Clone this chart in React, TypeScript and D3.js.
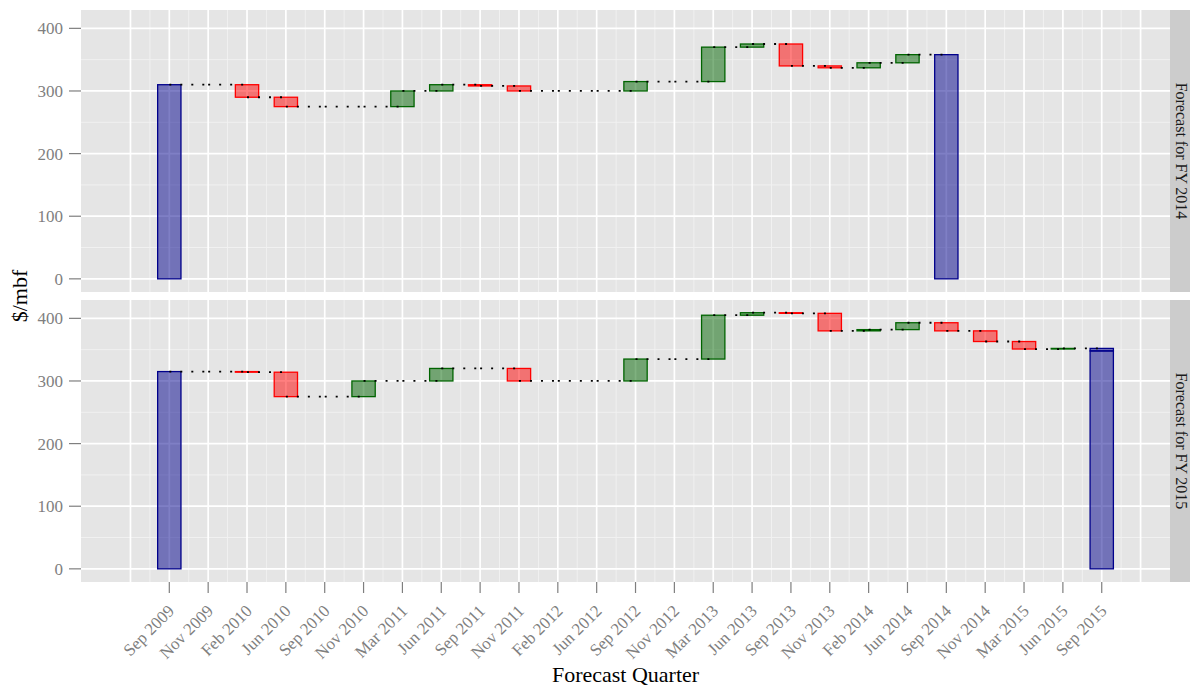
import React from "react";
import * as d3 from "d3";

// quarter labels along the x axis
const quarters = [
  "Sep 2009", "Nov 2009", "Feb 2010", "Jun 2010", "Sep 2010", "Nov 2010",
  "Mar 2011", "Jun 2011", "Sep 2011", "Nov 2011", "Feb 2012", "Jun 2012",
  "Sep 2012", "Nov 2012", "Mar 2013", "Jun 2013", "Sep 2013", "Nov 2013",
  "Feb 2014", "Jun 2014", "Sep 2014", "Nov 2014", "Mar 2015", "Jun 2015",
  "Sep 2015",
];

const panelLabels = ["Forecast for FY 2014", "Forecast for FY 2015"];

// FY 2014: opening forecast, quarter-on-quarter changes, closing forecast
const fy2014Start = 310;
const fy2014Changes = [0, -20, -15, 0, 0, 25, 10, -2, -8, 0, 0, 15, 0, 55, 5, -35, -3, 8, 13];
const fy2014Total = [358];

// FY 2015
const fy2015Start = 315;
const fy2015Changes = [0, -1, -39, 0, 25, 0, 20, 0, -20, 0, 0, 35, 0, 70, 4, -1, -28, 2, 11, -13, -17, -12, 1];
const fy2015Total = [348, 352];

const yTicks = [0, 100, 200, 300, 400];
const yMinor = [50, 150, 250, 350];

const W = 1190;
const H = 688;
const left = 81;
const right = 1170;
const panels = [
  { top: 10, bottom: 292 },
  { top: 300, bottom: 582 },
];

const FONT = "'Liberation Serif', 'Times New Roman', serif";

function buildPanel(start: number, changes: number[], totals: number[]) {
  const rects: { i: number; y0: number; y1: number; kind: string }[] = [];
  const levels: number[] = [start];
  rects.push({ i: 0, y0: 0, y1: start, kind: "total" });
  let level = start;
  changes.forEach((c, k) => {
    const i = k + 1;
    if (c !== 0) {
      rects.push({ i, y0: level, y1: level + c, kind: c > 0 ? "up" : "down" });
    }
    level += c;
    levels.push(level);
  });
  const endIdx = changes.length + 1;
  let base = 0;
  totals.forEach((t) => {
    rects.push({ i: endIdx, y0: base, y1: t, kind: "total" });
    base = t;
  });
  const segs = levels.map((v, i) => ({ i0: i, i1: i + 1, v }));
  return { rects, segs };
}

const fill: Record<string, string> = { total: "darkblue", up: "darkgreen", down: "red" };

export default function App() {
  const x = d3.scaleLinear().domain([-2.273, 25.757]).range([left, right]);
  const data = [
    buildPanel(fy2014Start, fy2014Changes, fy2014Total),
    buildPanel(fy2015Start, fy2015Changes, fy2015Total),
  ];
  const bw = x(0.3) - x(0);
  const xMajor = d3.range(-1, 26);
  const xMinor = d3.range(-1, 25).map((d) => d + 0.5);

  return (
    <svg width={W} height={H} style={{ position: "absolute", left: 0, top: 0, background: "#fff" }}>
      {panels.map((p, pi) => {
        const y = d3.scaleLinear().domain([-21, 429.3]).range([p.bottom, p.top]);
        const { rects, segs } = data[pi];
        return (
          <g key={pi}>
            <rect x={left} y={p.top} width={right - left} height={p.bottom - p.top} fill="#E5E5E5" />
            {yMinor.map((v) => (
              <line key={"ym" + v} x1={left} x2={right} y1={y(v)} y2={y(v)} stroke="#F2F2F2" strokeWidth={0.9} />
            ))}
            {xMinor.map((v) => (
              <line key={"xm" + v} x1={x(v)} x2={x(v)} y1={p.top} y2={p.bottom} stroke="#F2F2F2" strokeWidth={0.9} />
            ))}
            {yTicks.map((v) => (
              <line key={"yM" + v} x1={left} x2={right} y1={y(v)} y2={y(v)} stroke="#fff" strokeWidth={1.7} />
            ))}
            {xMajor.map((v) => (
              <line key={"xM" + v} x1={x(v)} x2={x(v)} y1={p.top} y2={p.bottom} stroke="#fff" strokeWidth={1.7} />
            ))}
            {rects.map((r, k) => (
              <rect
                key={"r" + k}
                x={x(r.i) - bw}
                width={bw * 2}
                y={y(Math.max(r.y0, r.y1))}
                height={Math.abs(y(r.y0) - y(r.y1))}
                fill={fill[r.kind]}
                fillOpacity={0.5}
                stroke={fill[r.kind]}
                strokeWidth={1.3}
              />
            ))}
            {segs.map((s, k) => (
              <line
                key={"s" + k}
                x1={x(s.i0)}
                x2={x(s.i1)}
                y1={y(s.v)}
                y2={y(s.v)}
                stroke="#000"
                strokeWidth={1.8}
                strokeDasharray="2 9"
              />
            ))}
            {/* y axis */}
            {yTicks.map((v) => (
              <g key={"yt" + v}>
                <line x1={69} x2={left} y1={y(v)} y2={y(v)} stroke="#7F7F7F" strokeWidth={1.2} />
                <text x={63} y={y(v)} dy="0.35em" textAnchor="end" fontFamily={FONT} fontSize={17} fill="#7F7F7F">
                  {v}
                </text>
              </g>
            ))}
            {/* strip */}
            <rect x={right} y={p.top} width={W - right} height={p.bottom - p.top} fill="#CCCCCC" />
            <text
              transform={`translate(1176,${(p.top + p.bottom) / 2}) rotate(90)`}
              textAnchor="middle"
              fontFamily={FONT}
              fontSize={16}
              fill="#1A1A1A"
            >
              {panelLabels[pi]}
            </text>
          </g>
        );
      })}
      {/* x axis */}
      {quarters.map((q, i) => (
        <g key={q}>
          <line x1={x(i)} x2={x(i)} y1={582} y2={593} stroke="#7F7F7F" strokeWidth={1.2} />
          <text
            transform={`translate(${x(i) + 6},${612}) rotate(-45)`}
            textAnchor="end"
            fontFamily={FONT}
            fontSize={17}
            fill="#7F7F7F"
          >
            {q}
          </text>
        </g>
      ))}
      <text x={(left + right) / 2} y={682} textAnchor="middle" fontFamily={FONT} fontSize={22} fill="#000">
        Forecast Quarter
      </text>
      <text
        transform={`translate(27,296) rotate(-90)`}
        textAnchor="middle"
        fontFamily={FONT}
        fontSize={22}
        fill="#000"
      >
        $/mbf
      </text>
    </svg>
  );
}
